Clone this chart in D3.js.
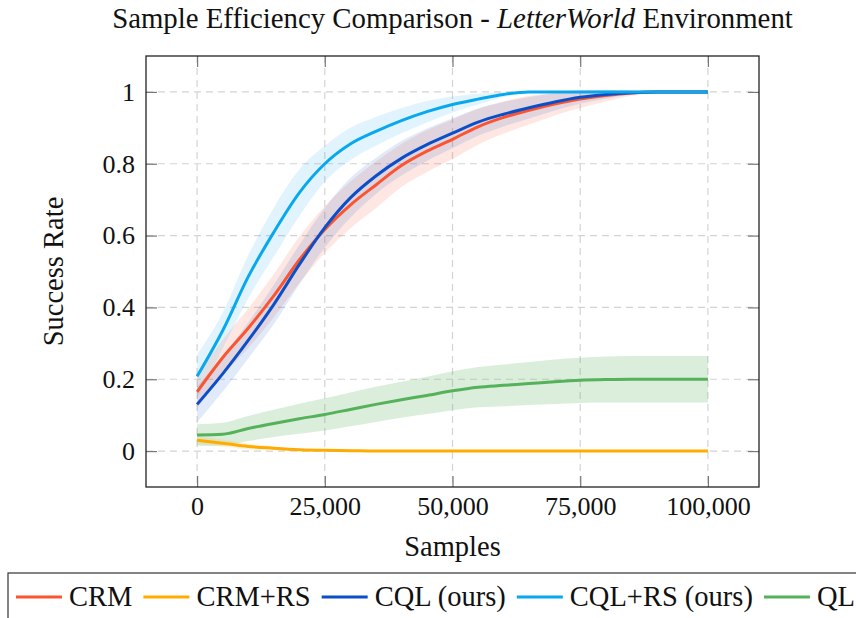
<!DOCTYPE html>
<html>
<head>
    <title>Sample Efficiency Comparison</title>
    <style>
        body { margin: 0; background: #fff; }
        text { font-family: "Liberation Serif", "Times New Roman", serif; fill: #111; }
        .grid line { stroke: #d4d4d4; stroke-width: 1.2px; stroke-dasharray: 7,5; }
    </style>
</head>
<body>
<div id="chart"></div>

<script src="https://d3js.org/d3.v7.min.js"></script>
<script>
    // samples (x) shared by every series
    const samples = [0, 5000, 10000, 15000, 20000, 25000, 30000, 35000, 40000, 45000, 50000,
        55000, 60000, 65000, 70000, 75000, 80000, 85000, 90000, 95000, 100000];

    const crmMean = [0.165, 0.26, 0.342, 0.432, 0.532, 0.617, 0.685, 0.741, 0.795, 0.835, 0.868,
        0.903, 0.929, 0.949, 0.966, 0.98, 0.99, 0.997, 1.0, 1.0, 1.0];
    const crmStd = [0.045, 0.05, 0.055, 0.06, 0.065, 0.065, 0.065, 0.065, 0.06, 0.058, 0.055,
        0.05, 0.045, 0.04, 0.032, 0.025, 0.017, 0.008, 0.002, 0, 0];

    const crmRsMean = [0.03, 0.022, 0.013, 0.008, 0.004, 0.002, 0.001, 0, 0, 0, 0,
        0, 0, 0, 0, 0, 0, 0, 0, 0, 0];
    const crmRsStd = [0.012, 0.01, 0.008, 0.005, 0.003, 0.002, 0.001, 0, 0, 0, 0,
        0, 0, 0, 0, 0, 0, 0, 0, 0, 0];

    const cqlMean = [0.13, 0.215, 0.308, 0.408, 0.519, 0.622, 0.705, 0.766, 0.815, 0.853, 0.885,
        0.916, 0.938, 0.956, 0.972, 0.985, 0.993, 0.998, 1.0, 1.0, 1.0];
    const cqlStd = [0.05, 0.05, 0.05, 0.055, 0.055, 0.055, 0.055, 0.05, 0.048, 0.045, 0.042,
        0.038, 0.034, 0.03, 0.024, 0.018, 0.012, 0.006, 0.002, 0, 0];

    const cqlRsMean = [0.208, 0.335, 0.485, 0.609, 0.719, 0.8, 0.855, 0.89, 0.92, 0.945, 0.965,
        0.98, 0.993, 1.0, 1.0, 1.0, 1.0, 1.0, 1.0, 1.0, 1.0];
    const cqlRsStd = [0.06, 0.05, 0.06, 0.068, 0.065, 0.05, 0.045, 0.04, 0.035, 0.03, 0.022,
        0.015, 0.007, 0.002, 0, 0, 0, 0, 0, 0, 0];

    const qlMean = [0.045, 0.047, 0.063, 0.077, 0.09, 0.102, 0.116, 0.13, 0.143, 0.155, 0.168,
        0.178, 0.183, 0.188, 0.193, 0.197, 0.199, 0.2, 0.2, 0.2, 0.2];
    const qlStd = [0.03, 0.032, 0.035, 0.038, 0.042, 0.045, 0.047, 0.049, 0.05, 0.052, 0.054,
        0.056, 0.058, 0.06, 0.062, 0.063, 0.064, 0.065, 0.065, 0.065, 0.065];

    const seriesNames = ["CRM", "CRM+RS", "CQL (ours)", "CQL+RS (ours)", "QL"];
    const seriesColors = ["#fb5430", "#ffab00", "#0b4fc8", "#08a8ef", "#55b15a"];
    const bandOpacity = [0.14, 0.15, 0.12, 0.12, 0.22];

    const xTicks = [0, 25000, 50000, 75000, 100000];
    const yTicks = [0, 0.2, 0.4, 0.6, 0.8, 1];

    const series = [
        { mean: crmMean, std: crmStd },
        { mean: crmRsMean, std: crmRsStd },
        { mean: cqlMean, std: cqlStd },
        { mean: cqlRsMean, std: cqlRsStd },
        { mean: qlMean, std: qlStd }
    ].map((s, i) => ({
        name: seriesNames[i],
        color: seriesColors[i],
        opacity: bandOpacity[i],
        points: samples.map((x, j) => ({ x: x, y: s.mean[j], sd: s.std[j] }))
    }));

    const width = 856, height = 618;
    const plot = { left: 146, top: 56, right: 759, bottom: 487 };

    const svg = d3.select('#chart').append('svg')
        .attr('width', width)
        .attr('height', height);

    const x = d3.scaleLinear().domain([-10000, 110000]).range([plot.left, plot.right]);
    const y = d3.scaleLinear().domain([-0.1, 1.1]).range([plot.bottom, plot.top]);

    // grid
    const grid = svg.append('g').attr('class', 'grid');
    grid.selectAll('.gx').data(xTicks).enter().append('line')
        .attr('x1', d => x(d)).attr('x2', d => x(d))
        .attr('y1', plot.top).attr('y2', plot.bottom);
    grid.selectAll('.gy').data(yTicks).enter().append('line')
        .attr('x1', plot.left).attr('x2', plot.right)
        .attr('y1', d => y(d)).attr('y2', d => y(d));

    svg.append('clipPath').attr('id', 'clip')
        .append('rect')
        .attr('x', plot.left).attr('y', plot.top)
        .attr('width', plot.right - plot.left).attr('height', plot.bottom - plot.top);

    const plotArea = svg.append('g').attr('clip-path', 'url(#clip)');

    const area = d3.area()
        .x(d => x(d.x))
        .y0(d => y(d.y - d.sd))
        .y1(d => y(d.y + d.sd))
        .curve(d3.curveMonotoneX);

    const line = d3.line()
        .x(d => x(d.x))
        .y(d => y(d.y))
        .curve(d3.curveMonotoneX);

    plotArea.selectAll('.band').data(series).enter().append('path')
        .attr('class', 'band')
        .attr('d', d => area(d.points))
        .attr('fill', d => d.color)
        .attr('fill-opacity', d => d.opacity)
        .attr('stroke', 'none');

    plotArea.selectAll('.line').data(series).enter().append('path')
        .attr('class', 'line')
        .attr('d', d => line(d.points))
        .attr('fill', 'none')
        .attr('stroke', d => d.color)
        .attr('stroke-width', 3);

    // axes: ticks inside on all sides, pgfplots style
    const tickLen = 11;
    const axisBottom = d3.axisBottom(x).tickValues(xTicks).tickSize(-tickLen).tickPadding(10)
        .tickFormat(d3.format(','));
    const axisTop = d3.axisTop(x).tickValues(xTicks).tickSize(-tickLen).tickFormat('');
    const axisLeft = d3.axisLeft(y).tickValues(yTicks).tickSize(-tickLen).tickPadding(11)
        .tickFormat(d => d3.format('')(+d.toFixed(1)));
    const axisRight = d3.axisRight(y).tickValues(yTicks).tickSize(-tickLen).tickFormat('');

    function styleAxis(g) {
        g.select('.domain').remove();
        g.selectAll('.tick line').attr('stroke', '#777').attr('stroke-width', 1.2);
        g.selectAll('.tick text').attr('font-size', 26)
            .attr('font-family', '"Liberation Serif", serif').attr('fill', '#111');
    }

    svg.append('g').attr('transform', `translate(0,${plot.bottom})`).call(axisBottom).call(styleAxis);
    svg.append('g').attr('transform', `translate(0,${plot.top})`).call(axisTop).call(styleAxis);
    svg.append('g').attr('transform', `translate(${plot.left},0)`).call(axisLeft).call(styleAxis);
    svg.append('g').attr('transform', `translate(${plot.right},0)`).call(axisRight).call(styleAxis);

    svg.append('rect')
        .attr('x', plot.left).attr('y', plot.top)
        .attr('width', plot.right - plot.left).attr('height', plot.bottom - plot.top)
        .attr('fill', 'none').attr('stroke', '#222').attr('stroke-width', 1.3);

    // title
    const title = svg.append('text')
        .attr('x', (plot.left + plot.right) / 2)
        .attr('y', 28)
        .attr('text-anchor', 'middle')
        .attr('font-size', 28.8);
    title.append('tspan').text('Sample Efficiency Comparison - ');
    title.append('tspan').attr('font-style', 'italic').text('LetterWorld');
    title.append('tspan').text(' Environment');

    svg.append('text')
        .attr('x', (plot.left + plot.right) / 2)
        .attr('y', 556)
        .attr('text-anchor', 'middle')
        .attr('font-size', 28.5)
        .text('Samples');

    svg.append('text')
        .attr('transform', `translate(63,${(plot.top + plot.bottom) / 2}) rotate(-90)`)
        .attr('text-anchor', 'middle')
        .attr('font-size', 28.5)
        .text('Success Rate');

    // legend
    const legend = svg.append('g');
    legend.append('rect')
        .attr('x', 8).attr('y', 573)
        .attr('width', 870).attr('height', 70)
        .attr('fill', '#fff').attr('stroke', '#333').attr('stroke-width', 1.2);

    let lx = 16;
    series.forEach(s => {
        legend.append('line')
            .attr('x1', lx).attr('x2', lx + 46)
            .attr('y1', 597).attr('y2', 597)
            .attr('stroke', s.color).attr('stroke-width', 3);
        const t = legend.append('text')
            .attr('x', lx + 53).attr('y', 606)
            .attr('font-size', 28.5)
            .text(s.name);
        lx += 53 + t.node().getComputedTextLength() + 11;
    });
</script>
</body>
</html>
